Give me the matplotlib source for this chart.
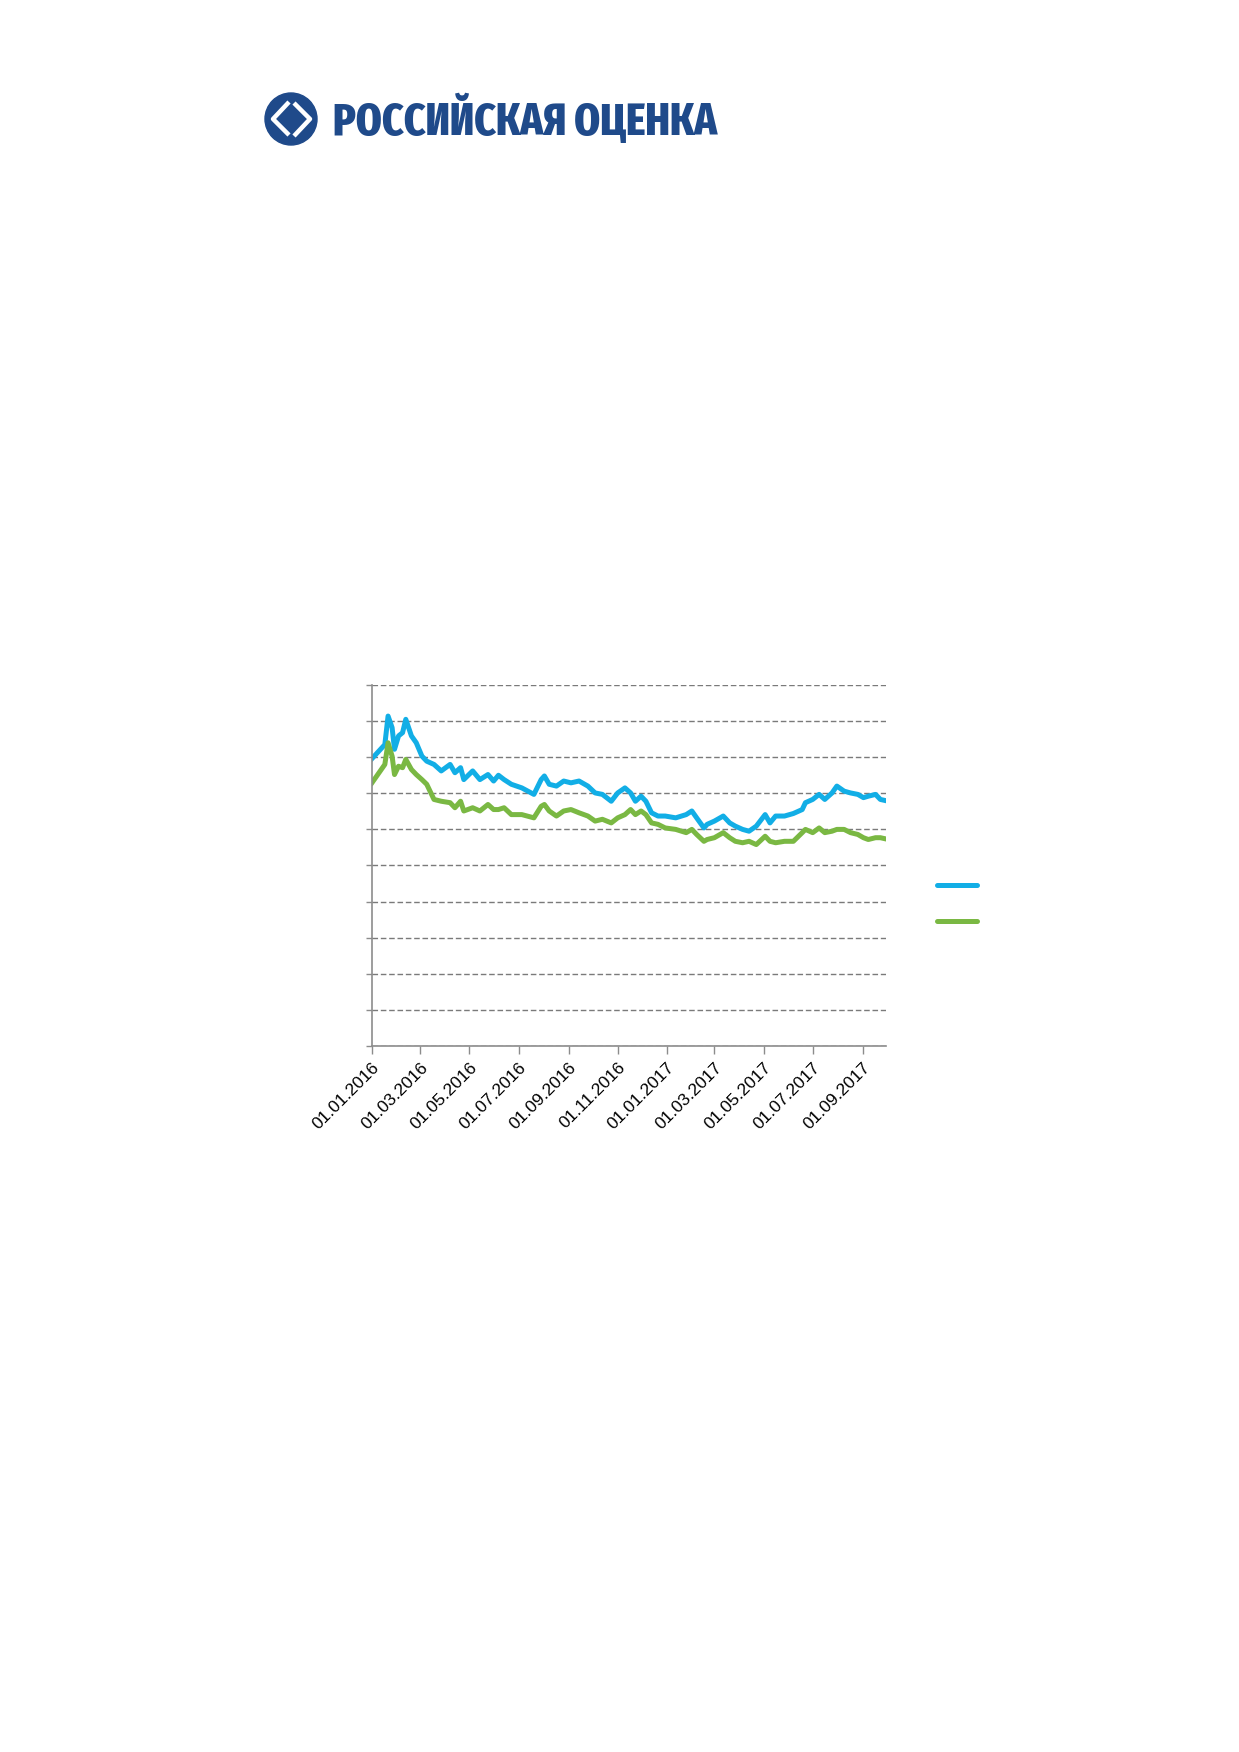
import numpy as np
import pandas as pd
import matplotlib
matplotlib.use("Agg")
import matplotlib.pyplot as plt
import matplotlib.dates as mdates
from matplotlib.patches import Circle

dates = [
    "2016-01-01", "2016-01-17", "2016-01-21", "2016-01-26", "2016-01-29",
    "2016-02-03", "2016-02-08", "2016-02-12", "2016-02-19", "2016-02-25",
    "2016-03-03", "2016-03-09", "2016-03-18", "2016-03-27", "2016-04-07",
    "2016-04-13", "2016-04-20", "2016-04-24", "2016-05-05", "2016-05-14",
    "2016-05-24", "2016-05-31", "2016-06-06", "2016-06-13", "2016-06-22",
    "2016-07-05", "2016-07-20", "2016-07-29", "2016-08-02", "2016-08-08",
    "2016-08-17", "2016-08-26", "2016-09-04", "2016-09-14", "2016-09-25",
    "2016-10-04", "2016-10-13", "2016-10-24", "2016-11-01", "2016-11-10",
    "2016-11-17", "2016-11-23", "2016-11-30", "2016-12-06", "2016-12-13",
    "2016-12-21", "2016-12-30", "2017-01-12", "2017-01-25", "2017-02-01",
    "2017-02-07", "2017-02-16", "2017-02-20", "2017-03-01", "2017-03-12",
    "2017-03-20", "2017-03-27", "2017-04-05", "2017-04-13", "2017-04-22",
    "2017-05-03", "2017-05-09", "2017-05-16", "2017-05-27", "2017-06-07",
    "2017-06-18", "2017-06-22", "2017-07-01", "2017-07-09", "2017-07-16",
    "2017-07-25", "2017-07-31", "2017-08-09", "2017-08-17", "2017-08-26",
    "2017-09-02", "2017-09-08", "2017-09-17", "2017-09-23", "2017-09-29",
]

# values in gridline units (axis has no visible labels: 0..100, grid every 10)
blue = [
    79.6, 83.5, 91.4, 88.2, 82.2, 85.9, 86.8, 90.5, 85.9, 84.0,
    80.3, 78.9, 78.0, 76.2, 78.0, 75.7, 77.1, 73.8, 76.2, 73.8,
    75.2, 73.4, 75.0, 73.8, 72.5, 71.5, 69.7, 73.8, 74.8, 72.5,
    72.0, 73.4, 72.9, 73.4, 72.0, 70.1, 69.7, 67.8, 70.1, 71.5,
    70.1, 67.8, 69.2, 67.8, 64.6, 63.7, 63.7, 63.2, 64.1, 65.1,
    63.2, 60.4, 61.4, 62.3, 63.7, 61.8, 60.9, 60.0, 59.5, 60.9,
    64.1, 61.8, 63.7, 63.7, 64.4, 65.5, 67.4, 68.3, 69.7, 68.3,
    70.1, 72.0, 70.6, 70.1, 69.7, 68.8, 69.2, 69.7, 68.3, 68.0,
]
green = [
    72.9, 78.0, 84.0, 80.3, 75.2, 77.5, 77.1, 79.4, 76.6, 75.2,
    73.8, 72.5, 68.3, 67.8, 67.4, 66.0, 67.8, 65.1, 66.0, 65.1,
    66.9, 65.5, 65.5, 66.0, 64.1, 64.1, 63.2, 66.4, 66.9, 65.1,
    63.7, 65.1, 65.5, 64.6, 63.7, 62.3, 62.8, 61.8, 63.2, 64.1,
    65.5, 64.1, 65.1, 64.1, 61.8, 61.4, 60.4, 60.0, 59.1, 60.0,
    58.6, 56.7, 57.2, 57.7, 59.1, 57.7, 56.7, 56.3, 56.7, 55.8,
    58.1, 56.7, 56.3, 56.7, 56.7, 59.1, 60.0, 59.1, 60.4, 59.1,
    59.5, 60.0, 60.0, 59.1, 58.6, 57.7, 57.2, 57.7, 57.7, 57.4,
]

tick_dates = [
    "2016-01-01", "2016-03-01", "2016-05-01", "2016-07-01", "2016-09-01",
    "2016-11-01", "2017-01-01", "2017-03-01", "2017-05-01", "2017-07-01",
    "2017-09-01",
]

BLUE = "#12aee6"
GREEN = "#7ab843"
LOGO = "#1f4a8a"
GRAY = "#8c8c8c"

x = pd.to_datetime(dates)

fig = plt.figure(figsize=(12.39, 17.52), dpi=100)
fig.patch.set_facecolor("white")

# --- logo (axes in pixel coords, y pointing down) --------------------------
lax = fig.add_axes([0, 0.90, 1, 0.1])
lax.set_xlim(0, 1239)
lax.set_ylim(175.2, 0)
lax.axis("off")
lax.add_patch(Circle((291, 119), 26, color=LOGO))
lax.plot([289, 273, 289], [102, 119, 135], color="white", lw=3.2, solid_capstyle="butt")
lax.plot([294, 310, 294], [103, 119, 136], color="white", lw=3.2, solid_capstyle="butt")
logo_txt = lax.text(333, 120, "РОССИЙСКАЯ ОЦЕНКА", color=LOGO, fontsize=36, fontweight=800,
                    family=["Fira Sans Extra Condensed", "Roboto Condensed",
                            "PT Sans Narrow", "Oswald", "DejaVu Sans"],
                    va="center", ha="left")
# squeeze the logo word-mark to its width in the page
renderer = fig.canvas.get_renderer()
w = logo_txt.get_window_extent(renderer).width
logo_txt.set_fontsize(36 * 385 / w)

# --- chart ----------------------------------------------------------------
ax = fig.add_axes([0.3002, 0.403, 0.4149, 0.206])
ax.plot(x, blue, color=BLUE, lw=3.6, solid_joinstyle="round", label=" ")
ax.plot(x, green, color=GREEN, lw=3.6, solid_joinstyle="round", label=" ")

ax.set_xlim(pd.Timestamp("2016-01-01"), pd.Timestamp("2017-09-30"))
ax.set_ylim(0, 100)
ax.set_yticks(np.arange(0, 101, 10))
ax.set_yticklabels([])
ax.set_xticks(pd.to_datetime(tick_dates))
ax.xaxis.set_major_formatter(mdates.DateFormatter("%d.%m.%Y"))
for lbl in ax.get_xticklabels():
    lbl.set_rotation(45)
    lbl.set_ha("right")
    lbl.set_rotation_mode("anchor")
    lbl.set_fontsize(12.5)
    lbl.set_family(["Liberation Sans", "DejaVu Sans"])

ax.grid(axis="y", color="#7a7a7a", linestyle=(0, (4, 2)), lw=1)
ax.set_axisbelow(True)
for side in ["top", "right"]:
    ax.spines[side].set_visible(False)
for side in ["left", "bottom"]:
    ax.spines[side].set_color(GRAY)
    ax.spines[side].set_linewidth(1.2)
ax.tick_params(axis="y", length=4, color=GRAY, width=1)
ax.tick_params(axis="x", length=6, color=GRAY, width=1, pad=4)

leg = ax.legend(loc="upper left", bbox_to_anchor=(1.07, 0.51), frameon=False,
                handlelength=2.4, labelspacing=1.1, fontsize=12)
for h in leg.get_lines():
    h.set_linewidth(3.6)
    h.set_solid_capstyle("round")

fig.savefig("out.png", dpi=100, facecolor="white")
